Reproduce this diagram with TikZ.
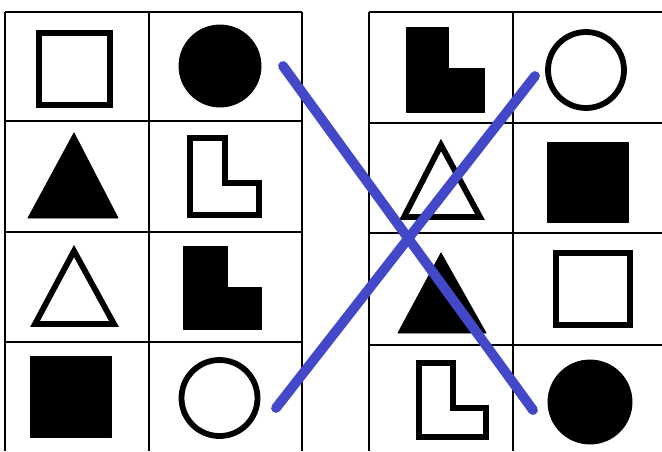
\documentclass[tikz,border=0pt]{standalone}
\usepackage{tikz}
\definecolor{cross}{RGB}{66,72,200}
\tikzset{
  gridline/.style={line width=1.1pt,black},
  hollow/.style={draw=black,line width=3.3pt,fill=white,line join=miter},
  blackfill/.style={fill=black,draw=black,line width=0.5pt,line join=round},
  stroke/.style={cross,line width=5.6pt,line cap=round}
}
% L-shaped tile: style, (x1,y1) top left, column edge x, step y, (x2,y2) bottom right
\newcommand{\tileL}[7]{\path[#1] (#2,#3) -- (#4,#3) -- (#4,#5) -- (#6,#5)
  -- (#6,#7) -- (#2,#7) -- cycle;}

\begin{document}
\begin{tikzpicture}[x=0.02cm,y=-0.02cm]
\useasboundingbox (0,0) rectangle (662,451);
% ---------------- grids ----------------
\foreach \x in {5,149,302} \draw[gridline] (\x,12) -- (\x,451);
\foreach \y in {12,121,232,342} \draw[gridline] (5,\y) -- (302,\y);
\foreach \x in {369,513} \draw[gridline] (\x,12) -- (\x,451);
\foreach \y in {12,123,233,345} \draw[gridline] (369,\y) -- (662,\y);
% ---------------- left grid ----------------
\path[hollow] (39,33) rectangle (110,105);
\path[blackfill] (220,66) circle (41);
\path[blackfill] (74,133) -- (118,218) -- (28,218) -- cycle;
\tileL{hollow}{190}{138}{225}{183}{259}{215}
\path[hollow] (74,251) -- (114,324) -- (35,324) -- cycle;
\tileL{blackfill}{183}{246}{227}{287}{261}{329}
\path[blackfill] (30,356) rectangle (111,437);
\path[hollow] (219.5,398) circle (38);
% ---------------- right grid ----------------
\tileL{blackfill}{406}{27}{448}{68}{484}{112}
\path[hollow] (586,70) circle (38);
\path[hollow] (441,145) -- (480,217) -- (404,217) -- cycle;
\path[blackfill] (547,142) rectangle (628,222);
\path[blackfill] (441,253) -- (486,333) -- (398,333) -- cycle;
\path[hollow] (556,253) rectangle (630,325);
\tileL{hollow}{419}{363}{453}{408}{486}{437}
\path[blackfill] (590,402) circle (42);
% ---------------- cross ----------------
\coordinate (a1) at (283,66);  \coordinate (a2) at (533,410);
\coordinate (b1) at (276,408); \coordinate (b2) at (535,76);
\draw[stroke] (a1) -- (a2);
\draw[stroke] (b1) -- (b2);
\end{tikzpicture}
\end{document}
